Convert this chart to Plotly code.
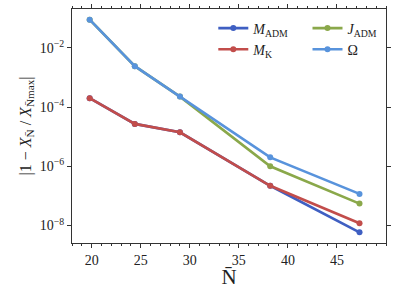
import plotly.graph_objects as go

N = [19.8, 24.4, 29.0, 38.2, 47.3]
M_ADM = [2.0e-4, 2.7e-5, 1.4e-5, 2.2e-7, 5.9e-9]
M_K = [2.0e-4, 2.7e-5, 1.4e-5, 2.2e-7, 1.2e-8]
J_ADM = [8.9e-2, 2.4e-3, 2.25e-4, 1.0e-6, 5.5e-8]
OMEGA = [8.9e-2, 2.4e-3, 2.25e-4, 2.0e-6, 1.17e-7]

series = [
    ("<i>M</i><sub>ADM</sub>", M_ADM, "#3f5fc2", "legend"),
    ("<i>M</i><sub>K</sub>", M_K, "#c24d4b", "legend"),
    ("<i>J</i><sub>ADM</sub>", J_ADM, "#8aa84a", "legend2"),
    ("Ω", OMEGA, "#5893dc", "legend2"),
]

ytickvals = [1e-8, 1e-6, 1e-4, 1e-2]
yticktext = ["10<sup>−8</sup>", "10<sup>−6</sup>", "10<sup>−4</sup>", "10<sup>−2</sup>"]
xtickvals = [20, 25, 30, 35, 40, 45]

font = "Liberation Serif"
fig = go.Figure()
for name, vals, color, leg in series:
    fig.add_trace(go.Scatter(
        x=N, y=vals, name=name, mode="lines+markers",
        line=dict(color=color, width=2.6),
        marker=dict(color=color, size=6),
        legend=leg,
    ))

axcol = "#333333"
legstyle = dict(
    orientation="v", yanchor="top", xanchor="left",
    itemwidth=30, bgcolor="rgba(0,0,0,0)",
    font=dict(family=font, size=14), tracegroupgap=0,
)
fig.update_layout(
    width=395, height=289,
    margin=dict(l=72, r=9, t=9, b=46, autoexpand=False),
    paper_bgcolor="white", plot_bgcolor="white",
    font=dict(family=font, size=14, color="#222222"),
    showlegend=True,
    legend=dict(x=0.45, y=0.985, **legstyle),
    legend2=dict(x=0.75, y=0.985, **legstyle),
    xaxis=dict(
        range=[18, 50], tickvals=xtickvals, ticks="outside", ticklen=4,
        tickcolor=axcol, showline=True, linecolor=axcol, linewidth=1,
        mirror="ticks", showgrid=False, zeroline=False, automargin=False,
        minor=dict(dtick=1, ticks="outside", ticklen=2, tickcolor=axcol, showgrid=False),
        title=dict(text="N̄", font=dict(size=21, family=font), standoff=2),
        tickfont=dict(size=14),
    ),
    yaxis=dict(
        type="log", range=[-8.59, -0.69], tickvals=ytickvals, ticktext=yticktext,
        ticks="outside", ticklen=4, tickcolor=axcol, showline=True,
        linecolor=axcol, linewidth=1, mirror="ticks", showgrid=False, zeroline=False,
        automargin=False,
        title=dict(text="|1 − <i>X</i><sub>N̄</sub> / <i>X</i><sub>N̄max</sub>|",
                   font=dict(size=16, family=font), standoff=4),
        tickfont=dict(size=14),
    ),
)

fig.write_html("out.html", config={"displayModeBar": False},
               post_script="document.body.style.margin='0';document.body.style.padding='0';")
